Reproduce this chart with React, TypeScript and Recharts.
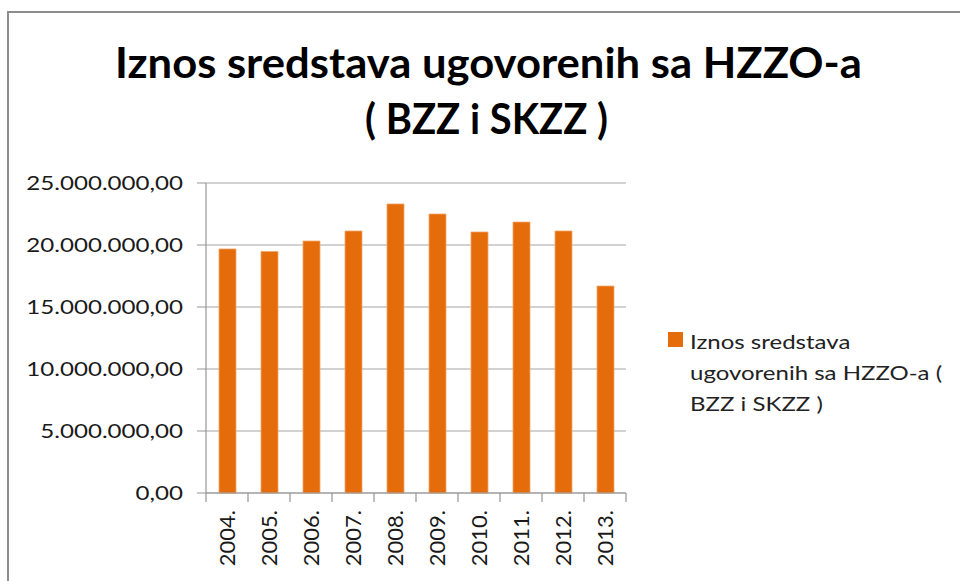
import React from 'react';
import { BarChart, Bar, XAxis, YAxis, CartesianGrid, Legend } from 'recharts';

const years = ['2004.', '2005.', '2006.', '2007.', '2008.', '2009.', '2010.', '2011.', '2012.', '2013.'];
const amounts = [19680000, 19480000, 20320000, 21130000, 23310000, 22500000, 21050000, 21850000, 21130000, 16690000];
const yTicks = [0, 5000000, 10000000, 15000000, 20000000, 25000000];
const seriesName = 'Iznos sredstava ugovorenih sa HZZO-a ( BZZ i SKZZ )';
const titleLines = ['Iznos sredstava ugovorenih sa HZZO-a', '( BZZ i SKZZ )'];
const legendLines = ['Iznos sredstava', 'ugovorenih sa HZZO-a (', 'BZZ i SKZZ )'];

const data = years.map((y, i) => ({ year: y, amount: amounts[i] }));

const BAR = '#E46C0A';
const AXIS = '#959595';
const GRID = '#a6a6a6';
const FONT = 'Lato, "Open Sans", sans-serif';
const CHART_W = 960;
const CHART_H = 581;
const Y_AXIS_W = 206;
const MARGIN = { top: 183, right: 334, bottom: 0, left: 0 };
const X_TICK_SIZE = 9;
const X_TICK_MARGIN = 8;
const HALF_BAND = (CHART_W - Y_AXIS_W - MARGIN.right - MARGIN.left) / years.length / 2;

function fmt(v: number): string {
  const s = Math.round(v).toString().replace(/\B(?=(\d{3})+(?!\d))/g, '.');
  return s + ',00';
}

const YTick = (props: any) => {
  const { x, y, payload } = props;
  return (
    <g transform={`translate(${x},${y}) scale(1.27,1)`}>
      <text x={0} y={0} dy="0.36em" textAnchor="end" fontFamily={FONT} fontSize={19} fill="#1a1a1a">
        {fmt(payload.value)}
      </text>
    </g>
  );
};

const XTick = (props: any) => {
  const { x, y, payload, index } = props;
  const axisY = y - X_TICK_SIZE - X_TICK_MARGIN;
  const isLast = index === years.length - 1;
  return (
    <g>
      <line x1={x - HALF_BAND} x2={x - HALF_BAND} y1={axisY} y2={axisY + X_TICK_SIZE} stroke={AXIS} strokeWidth={1.2} />
      {isLast && (
        <line x1={x + HALF_BAND} x2={x + HALF_BAND} y1={axisY} y2={axisY + X_TICK_SIZE} stroke={AXIS} strokeWidth={1.2} />
      )}
      <g transform={`translate(${x},${y}) rotate(-90)`}>
        <text x={0} y={0} dy="0.36em" textAnchor="end" fontFamily={FONT} fontSize={22} fill="#1a1a1a">
          {payload.value}
        </text>
      </g>
    </g>
  );
};

const LegendContent = () => (
  <div style={{ position: 'relative', fontFamily: FONT, fontSize: 20, lineHeight: '31px', color: '#222' }}>
    <div style={{ position: 'absolute', left: 0, top: 6, width: 15, height: 15, background: BAR }} />
    <div style={{ marginLeft: 22, transform: 'scaleX(1.2)', transformOrigin: 'left top', whiteSpace: 'nowrap' }}>
      {legendLines.map((l, i) => (
        <div key={i}>{l}</div>
      ))}
    </div>
  </div>
);

export default function App() {
  return (
    <div style={{ position: 'absolute', left: 0, top: 0, width: CHART_W, height: CHART_H, overflow: 'hidden', background: '#fff' }}>
      <div
        style={{
          position: 'absolute',
          left: 7,
          top: 11,
          width: 1200,
          height: 1200,
          borderTop: '2px solid #8c8c8c',
          borderLeft: '2px solid #8c8c8c',
        }}
      />
      <svg width={CHART_W} height={CHART_H} style={{ position: 'absolute', left: 0, top: 0 }}>
        <text
          x={488.5}
          y={78}
          textAnchor="middle"
          fontFamily={FONT}
          fontWeight="bold"
          fontSize={42}
          textLength={747}
          lengthAdjust="spacingAndGlyphs"
          fill="#000"
        >
          {titleLines[0]}
        </text>
        <text
          x={486.5}
          y={134}
          textAnchor="middle"
          fontFamily={FONT}
          fontWeight="bold"
          fontSize={42}
          textLength={243}
          lengthAdjust="spacingAndGlyphs"
          fill="#000"
        >
          {titleLines[1]}
        </text>
      </svg>
      <div style={{ position: 'absolute', left: 0, top: 0 }}>
        <BarChart width={CHART_W} height={CHART_H} data={data} margin={MARGIN}>
          <CartesianGrid vertical={false} stroke={GRID} strokeWidth={1.2} />
          <XAxis
            dataKey="year"
            tick={<XTick />}
            tickLine={false}
            tickSize={X_TICK_SIZE}
            tickMargin={X_TICK_MARGIN}
            axisLine={{ stroke: AXIS, strokeWidth: 1.2 }}
            height={88}
            interval={0}
          />
          <YAxis
            domain={[0, 25000000]}
            ticks={yTicks}
            tick={<YTick />}
            width={Y_AXIS_W}
            tickSize={9}
            tickMargin={14}
            tickLine={{ stroke: AXIS }}
            axisLine={{ stroke: AXIS, strokeWidth: 1.2 }}
            interval={0}
          />
          <Legend
            layout="vertical"
            align="center"
            verticalAlign="middle"
            content={<LegendContent />}
            wrapperStyle={{ left: 668, top: 326, width: 292 }}
          />
          <Bar
            dataKey="amount"
            name={seriesName}
            fill={BAR}
            stroke="#F3A56A"
            strokeWidth={0.8}
            barSize={17}
            isAnimationActive={false}
          />
        </BarChart>
      </div>
    </div>
  );
}
